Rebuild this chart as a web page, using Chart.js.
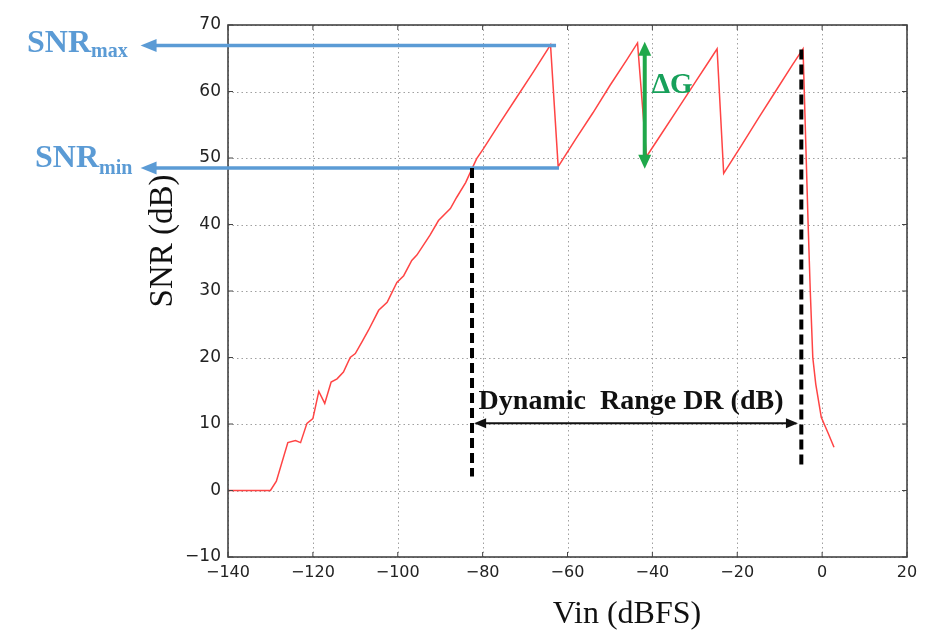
<!DOCTYPE html>
<html>
<head>
<meta charset="utf-8">
<script src="https://cdn.jsdelivr.net/npm/chart.js@4.4.1/dist/chart.umd.min.js"></script>
<style>
html,body{margin:0;padding:0;background:#fff;}
canvas{display:block;}
</style>
</head>
<body>
<canvas id="c" width="926" height="630"></canvas>
<script>
// ---- data ----
const vinDBFS = [-140, -130, -128.6, -125.9, -124.1, -122.9, -121.4, -120, -118.6, -117.2, -115.7, -114.3, -112.8, -111.2, -110, -108.4, -106.9, -104.5, -102.5, -100.2, -98.6, -96.7, -95.5, -92.4, -90.4, -87.6, -86.1, -84, -82.5, -81.4, -79.8, -76, -72, -68, -64, -62.2, -58, -54, -50, -46, -43.5, -41.4, -38, -34, -30, -26.5, -24.75, -23.2, -19, -15, -11, -7, -4.5, -3.3, -2.8, -2.2, -1.5, -0.2, 1.5, 2.8];
const snrDB = [0, 0, 1.4, 7.2, 7.5, 7.2, 10.1, 10.8, 14.9, 13.1, 16.3, 16.8, 17.8, 20.0, 20.6, 22.4, 24.1, 27.1, 28.3, 31.3, 32.3, 34.6, 35.4, 38.4, 40.6, 42.4, 44.1, 46.3, 48.4, 49.9, 51.4, 55.2, 59.1, 63.0, 67.0, 48.7, 52.9, 56.8, 60.9, 64.8, 67.3, 50.2, 53.5, 57.4, 61.3, 64.7, 66.4, 47.7, 51.9, 56.0, 60.0, 64.0, 66.4, 40.1, 30.1, 20.0, 16.0, 11.0, 8.5, 6.5];

const xTickRange = [-140, 20, 20];   // min, max, step
const yTickRange = [-10, 70, 10];

// annotation values (data units)
const snrMaxLevel = 66.9;
const snrMinLevel = 48.5;
const snrMaxLineEnd = -62.7;
const snrMinLineEnd = -62.0;
const levelArrowTip = -160.6;
const drLeft = -82.5, drLeftTop = 48.5, drLeftBottom = 2.1;
const drRight = -4.9, drRightTop = 66.3, drRightBottom = 3.3;
const drArrowLevel = 10.1, drArrowLeft = -82.0, drArrowRight = -5.7;
const dgX = -41.8, dgTop = 67.5, dgBottom = 48.4;

const labels = {
  xTitle: 'Vin (dBFS)',
  yTitle: 'SNR (dB)',
  dr: 'Dynamic  Range DR (dB)',
  dg: '\u0394G',
  snr: 'SNR', max: 'max', min: 'min'
};

function fmtTick(v){ return v < 0 ? '\u2212' + Math.abs(v) : String(v); }

function arrowHead(ctx, tx, ty, dx, dy, len, hw, color){
  const px = -dy, py = dx;
  ctx.beginPath();
  ctx.moveTo(tx, ty);
  ctx.lineTo(tx - dx*len + px*hw, ty - dy*len + py*hw);
  ctx.lineTo(tx - dx*len - px*hw, ty - dy*len - py*hw);
  ctx.closePath();
  ctx.fillStyle = color;
  ctx.fill();
}

const bgPlugin = {
  id: 'bg',
  beforeDraw(chart){
    const ctx = chart.ctx;
    ctx.save(); ctx.fillStyle = '#fff'; ctx.fillRect(0,0,chart.width,chart.height); ctx.restore();
  }
};

const gridPlugin = {
  id: 'mplgrid',
  beforeDatasetsDraw(chart){
    const {ctx, chartArea:a, scales:{x,y}} = chart;
    ctx.save();
    ctx.strokeStyle = '#a0a0a0';
    ctx.lineWidth = 1;
    ctx.setLineDash([1.5, 3]);
    x.ticks.forEach(t => {
      const px = Math.round(x.getPixelForValue(t.value)) + 0.5;
      ctx.beginPath(); ctx.moveTo(px, a.top); ctx.lineTo(px, a.bottom); ctx.stroke();
    });
    y.ticks.forEach(t => {
      const py = Math.round(y.getPixelForValue(t.value)) + 0.5;
      ctx.beginPath(); ctx.moveTo(a.left, py); ctx.lineTo(a.right, py); ctx.stroke();
    });
    ctx.restore();
  },
  afterDatasetsDraw(chart){
    const {ctx, chartArea:a, scales:{x,y}} = chart;
    ctx.save();
    ctx.strokeStyle = '#444';
    ctx.lineWidth = 1.6;
    ctx.setLineDash([]);
    ctx.strokeRect(a.left, a.top, a.right - a.left, a.bottom - a.top);
    ctx.lineWidth = 1;
    const L = 5;
    x.ticks.forEach(t => {
      const px = x.getPixelForValue(t.value);
      ctx.beginPath();
      ctx.moveTo(px, a.bottom); ctx.lineTo(px, a.bottom - L);
      ctx.moveTo(px, a.top); ctx.lineTo(px, a.top + L);
      ctx.stroke();
    });
    y.ticks.forEach(t => {
      const py = y.getPixelForValue(t.value);
      ctx.beginPath();
      ctx.moveTo(a.left, py); ctx.lineTo(a.left + L, py);
      ctx.moveTo(a.right, py); ctx.lineTo(a.right - L, py);
      ctx.stroke();
    });
    ctx.restore();
  }
};

const annotPlugin = {
  id: 'annot',
  afterDraw(chart){
    const {ctx, scales:{x,y}} = chart;
    const X = v => x.getPixelForValue(v), Y = v => y.getPixelForValue(v);
    ctx.save();
    // blue level lines with arrows
    const blue = '#5b9bd5';
    [[snrMaxLevel, snrMaxLineEnd],[snrMinLevel, snrMinLineEnd]].forEach(([lv, end]) => {
      const py = Y(lv), tip = X(levelArrowTip);
      ctx.strokeStyle = blue; ctx.lineWidth = 3.5; ctx.setLineDash([]);
      ctx.beginPath(); ctx.moveTo(tip + 12, py); ctx.lineTo(X(end), py); ctx.stroke();
      arrowHead(ctx, tip, py, -1, 0, 16, 6.5, blue);
    });
    // blue labels
    ctx.fillStyle = blue;
    ctx.textAlign = 'left'; ctx.textBaseline = 'alphabetic';
    ctx.font = 'bold 32px "Liberation Serif"';
    const yMax = Y(snrMaxLevel), yMin = Y(snrMinLevel);
    ctx.fillText(labels.snr, 27, yMax + 6);
    let w = ctx.measureText(labels.snr).width;
    ctx.font = 'bold 20px "Liberation Serif"';
    ctx.fillText(labels.max, 27 + w, yMax + 11);
    ctx.font = 'bold 32px "Liberation Serif"';
    ctx.fillText(labels.snr, 35, yMin - 1);
    w = ctx.measureText(labels.snr).width;
    ctx.font = 'bold 20px "Liberation Serif"';
    ctx.fillText(labels.min, 35 + w, yMin + 6);

    // black dashed verticals
    ctx.strokeStyle = '#000'; ctx.lineWidth = 4; ctx.setLineDash([10, 5]);
    ctx.beginPath(); ctx.moveTo(X(drLeft), Y(drLeftTop)); ctx.lineTo(X(drLeft), Y(drLeftBottom)); ctx.stroke();
    ctx.beginPath(); ctx.moveTo(X(drRight), Y(drRightTop)); ctx.lineTo(X(drRight), Y(drRightBottom)); ctx.stroke();
    ctx.setLineDash([]);

    // DR double arrow
    const ay = Y(drArrowLevel), al = X(drArrowLeft), ar = X(drArrowRight);
    ctx.strokeStyle = '#111'; ctx.lineWidth = 2;
    ctx.beginPath(); ctx.moveTo(al + 8, ay); ctx.lineTo(ar - 8, ay); ctx.stroke();
    arrowHead(ctx, al, ay, -1, 0, 12, 5, '#111');
    arrowHead(ctx, ar, ay, 1, 0, 12, 5, '#111');
    ctx.fillStyle = '#111';
    ctx.font = 'bold 28px "Liberation Serif"';
    ctx.textAlign = 'center';
    ctx.fillText(labels.dr, (al + ar) / 2 - 5, ay - 14);

    // Delta G arrow
    const green = '#1fa84a';
    const gx = X(dgX), gt = Y(dgTop), gb = Y(dgBottom);
    ctx.strokeStyle = green; ctx.lineWidth = 4;
    ctx.beginPath(); ctx.moveTo(gx, gt + 12); ctx.lineTo(gx, gb - 12); ctx.stroke();
    arrowHead(ctx, gx, gt, 0, -1, 14, 6.5, green);
    arrowHead(ctx, gx, gb, 0, 1, 14, 6.5, green);
    ctx.fillStyle = '#17a05a';
    ctx.font = 'bold 29px "Liberation Serif"';
    ctx.textAlign = 'left';
    ctx.fillText(labels.dg, gx + 7, Y(60) + 1);

    // axis titles
    ctx.fillStyle = '#111';
    ctx.font = '32px "Liberation Serif"';
    ctx.textAlign = 'center';
    ctx.fillText(labels.xTitle, 627, 623);
    ctx.save();
    ctx.translate(172, 241);
    ctx.rotate(-Math.PI / 2);
    ctx.font = '33px "Liberation Serif"';
    ctx.fillText(labels.yTitle, 0, 0);
    ctx.restore();
    ctx.restore();
  }
};

const points = vinDBFS.map((v, i) => ({x: v, y: snrDB[i]}));

new Chart(document.getElementById('c'), {
  type: 'scatter',
  data: {
    datasets: [{
      data: points,
      showLine: true,
      borderColor: '#ff4444',
      borderWidth: 1.5,
      pointRadius: 0,
      tension: 0,
      fill: false
    }]
  },
  options: {
    responsive: false,
    animation: false,
    devicePixelRatio: 1,
    layout: { padding: { top: 25, right: 19, left: 0, bottom: 0 } },
    plugins: { legend: { display: false }, tooltip: { enabled: false } },
    scales: {
      x: {
        type: 'linear',
        min: xTickRange[0], max: xTickRange[1],
        ticks: { stepSize: xTickRange[2], color: '#222', padding: 6,
                 font: { family: 'DejaVu Sans', size: 16 }, callback: fmtTick, maxRotation: 0 },
        grid: { display: false, drawTicks: false },
        border: { display: false },
        afterFit(s){ s.height = 73; }
      },
      y: {
        type: 'linear',
        min: yTickRange[0], max: yTickRange[1],
        ticks: { stepSize: yTickRange[2], color: '#222', padding: 7,
                 font: { family: 'DejaVu Sans', size: 17 }, callback: fmtTick },
        grid: { display: false, drawTicks: false },
        border: { display: false },
        afterFit(s){ s.width = 228; }
      }
    }
  },
  plugins: [bgPlugin, gridPlugin, annotPlugin]
});
</script>
</body>
</html>
